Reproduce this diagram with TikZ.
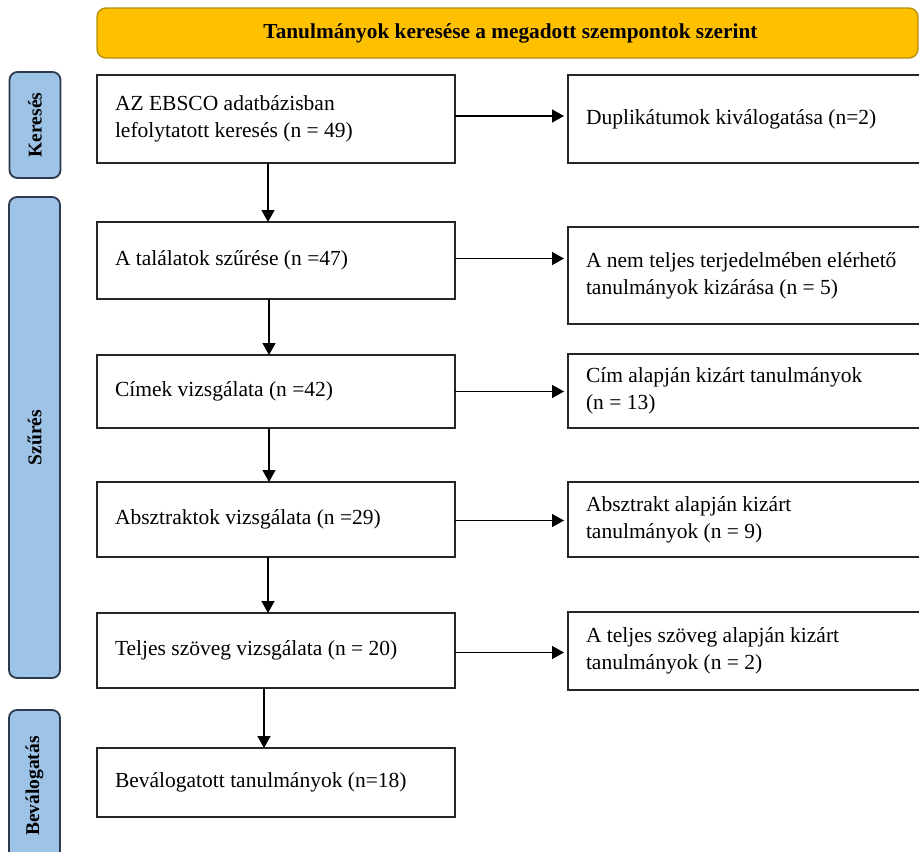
\documentclass[tikz,border=0pt]{standalone}
\usepackage{fontspec}
\setmainfont{Liberation Serif}
\usetikzlibrary{arrows.meta}
\definecolor{sarga}{HTML}{FFC000}
\definecolor{sargavonal}{HTML}{B8900A}
\definecolor{kek}{HTML}{9DC3E6}
\definecolor{kekvonal}{HTML}{2B3A4C}
\begin{document}
\begin{tikzpicture}[x=1pt, y=-1pt, every node/.style={outer sep=0pt},
  box/.style={draw=black!85, line width=1.8pt, fill=white, anchor=west, inner xsep=18pt, text width=322pt, align=flush left, font=\fontsize{21.5}{27}\selectfont},
  rbox/.style={box, text width=340pt},
  tab/.style={draw=kekvonal, fill=kek, line width=1.8pt, rounded corners=8pt, rotate=90, minimum height=51pt, font=\bfseries\fontsize{19.5}{21}\selectfont},
  arr/.style={line width=1.5pt, -{Triangle[length=12pt,width=13pt]}}]
\useasboundingbox[fill=white] (0,0) rectangle (919,852);

\node[draw=sargavonal, fill=sarga, line width=1.4pt, rounded corners=9pt, minimum width=821pt, minimum height=50pt, font=\bfseries\fontsize{21.3}{23}\selectfont] (fejlec) at (507.5,33) {\hspace*{6pt}Tanulmányok keresése a megadott szempontok szerint};

\node[tab, minimum width=106pt] (tabker) at (35,125) {Keresés};
\node[tab, minimum width=481pt] (tabszur) at (34.5,437.5) {Szűrés};
\node[tab, minimum width=152pt] (tabval) at (34.5,786) {Beválogatás};

\node[box, minimum height=88pt] (kereses) at (97,119) {AZ EBSCO adatbázisban\\lefolytatott keresés (n = 49)};
\node[box, minimum height=77pt] (szures) at (97,260.5) {A találatok szűrése (n =47)};
\node[box, minimum height=73pt] (cimek) at (97,391.5) {Címek vizsgálata (n =42)};
\node[box, minimum height=75pt] (absztr) at (97,519.5) {Absztraktok vizsgálata (n =29)};
\node[box, minimum height=75pt] (teljes) at (97,650.5) {Teljes szöveg vizsgálata (n = 20)};
\node[box, minimum height=69pt] (valogat) at (97,782.5) {Beválogatott tanulmányok (n=18)};

\node[rbox, minimum height=88pt] (dupl) at (568,119) {Duplikátumok kiválogatása (n=2)};
\node[rbox, minimum height=97pt] (nemteljes) at (568,275.5) {A nem teljes terjedelmében elérhető\\tanulmányok kizárása (n = 5)};
\node[rbox, minimum height=74pt] (cimkiz) at (568,391) {Cím alapján kizárt tanulmányok\\(n = 13)};
\node[rbox, minimum height=75pt] (abszkiz) at (568,519.5) {Absztrakt alapján kizárt\\tanulmányok (n = 9)};
\node[rbox, minimum height=78pt] (teljkiz) at (568,651) {A teljes szöveg alapján kizárt\\tanulmányok (n = 2)};

\draw[arr] ([xshift=-8pt]kereses.south) -- ([xshift=-8pt]kereses.south |- szures.north);
\draw[arr] ([xshift=-7pt]szures.south) -- ([xshift=-7pt]szures.south |- cimek.north);
\draw[arr] ([xshift=-7pt]cimek.south) -- ([xshift=-7pt]cimek.south |- absztr.north);
\draw[arr] ([xshift=-8pt]absztr.south) -- ([xshift=-8pt]absztr.south |- teljes.north);
\draw[arr] ([xshift=-12pt]teljes.south) -- ([xshift=-12pt]teljes.south |- valogat.north);

\draw[arr, shorten >=4pt] ([yshift=3pt]kereses.east) -- ([yshift=3pt]kereses.east -| dupl.west);
\draw[arr, shorten >=4pt] ([yshift=2pt]szures.east) -- ([yshift=2pt]szures.east -| nemteljes.west);
\draw[arr, shorten >=4pt] (cimek.east) -- (cimek.east -| cimkiz.west);
\draw[arr, shorten >=4pt] ([yshift=-1pt]absztr.east) -- ([yshift=-1pt]absztr.east -| abszkiz.west);
\draw[arr, shorten >=4pt] ([yshift=-2pt]teljes.east) -- ([yshift=-2pt]teljes.east -| teljkiz.west);
\end{tikzpicture}
\end{document}
